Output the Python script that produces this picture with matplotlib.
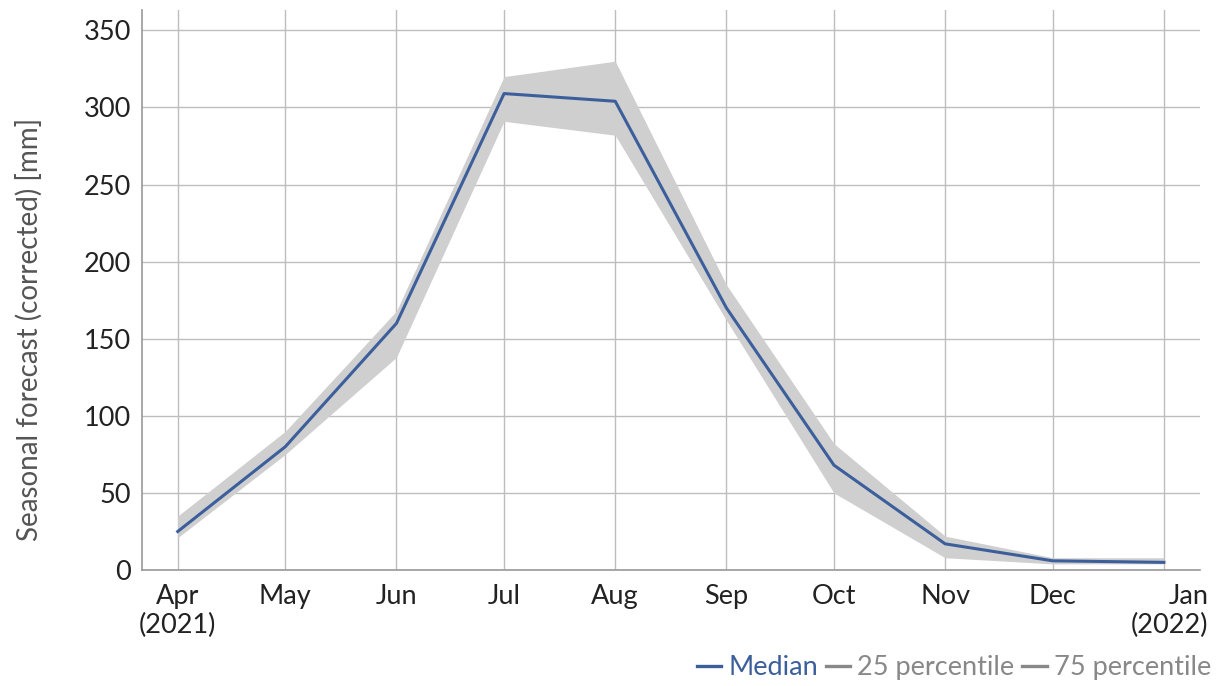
import matplotlib
matplotlib.use("Agg")
import matplotlib.pyplot as plt
import matplotlib.transforms as mtransforms
from matplotlib.lines import Line2D
import numpy as np
import datetime as dt

plt.rcParams['font.family'] = ['Lato', 'DejaVu Sans']

months = ["2021-04-01", "2021-05-01", "2021-06-01", "2021-07-01", "2021-08-01",
          "2021-09-01", "2021-10-01", "2021-11-01", "2021-12-01", "2022-01-01"]
tick_labels = ["Apr\n(2021)", "May", "Jun", "Jul", "Aug", "Sep", "Oct", "Nov", "Dec", "Jan\n(2022)"]
median = [25, 80, 160, 309, 304, 170, 68, 17, 6, 5]
p25 = [21, 75, 138, 291, 282, 162, 50, 8, 4, 4]
p75 = [35, 90, 168, 320, 330, 185, 82, 22, 8, 8]

dates = [dt.datetime.strptime(m, "%Y-%m-%d") for m in months]

fig = plt.figure(figsize=(12.23, 6.86), dpi=100)
ax = fig.add_axes([0.116, 0.169, 0.865, 0.816])

ax.fill_between(dates, p25, p75, color="#cfcfcf", linewidth=0, zorder=2)
ax.plot(dates, median, color="#3c5f9c", linewidth=2.2, zorder=3)

ax.set_xlim(dt.datetime(2021, 3, 22), dt.datetime(2022, 1, 11))
ax.set_ylim(0, 363)
ax.set_yticks(np.arange(0, 351, 50))
ax.set_xticks(dates)
ax.set_xticklabels(tick_labels)

ax.grid(True, color="#bdbdbd", linewidth=1)
ax.set_axisbelow(True)
for s in ["top", "right"]:
    ax.spines[s].set_visible(False)
for s in ["left", "bottom"]:
    ax.spines[s].set_color("#999999")
    ax.spines[s].set_linewidth(1.2)

ax.tick_params(axis="both", length=0, labelsize=19.5, colors="#222222")
ax.tick_params(axis="x", pad=10)
ax.tick_params(axis="y", pad=8)

labels = ax.get_xticklabels()
last = labels[-1]
last.set_multialignment("right")
last.set_transform(last.get_transform() + mtransforms.ScaledTranslation(6/100, 0, fig.dpi_scale_trans))

ax.set_ylabel("Seasonal forecast (corrected) [mm]", fontsize=20, color="#555555")
ax.yaxis.set_label_coords(-0.094, 0.43)

handles = [Line2D([], [], color="#3c5f9c", linewidth=2.4),
           Line2D([], [], color="#888888", linewidth=2.4),
           Line2D([], [], color="#888888", linewidth=2.4)]
leg = fig.legend(handles, ["Median", "25 percentile", "75 percentile"], loc="lower right",
                 bbox_to_anchor=(1.01, -0.027), ncol=3, frameon=False, fontsize=19.5,
                 handlelength=0.9, handletextpad=0.25, columnspacing=0.3,
                 labelcolor=["#3c5f9c", "#888888", "#888888"])

fig.savefig("out.png", dpi=100)
